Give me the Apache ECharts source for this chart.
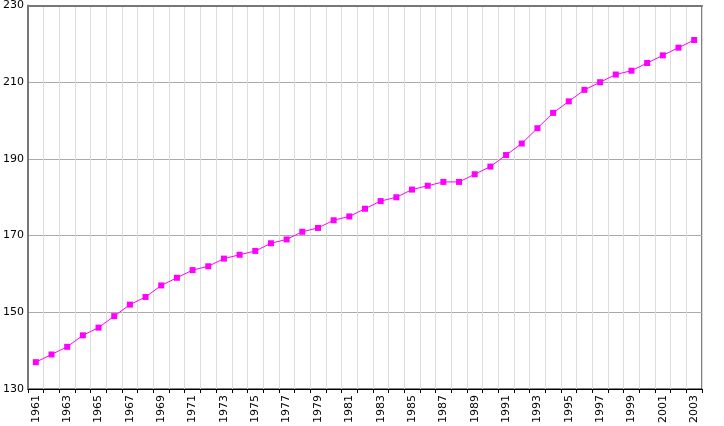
<!DOCTYPE html>
<html>
<head>
<meta charset="utf-8">
<script src="https://cdn.jsdelivr.net/npm/echarts@6/dist/echarts.min.js"></script>
<style>html,body{margin:0;padding:0;background:#fff}#c{width:724px;height:426px}</style>
</head>
<body>
<div id="c"></div>
<script>
const years = [];
for (let y = 1961; y <= 2003; y++) years.push(String(y));
const values = [137,139,141,144,146,149,152,154,157,159,161,162,164,165,166,168,169,171,172,174,175,177,179,180,182,183,184,184,186,188,191,194,198,202,205,208,210,212,213,215,217,219,221];
const yTicks = [130,150,170,190,210,230];

const chart = echarts.init(document.getElementById('c'), null, {renderer:'canvas'});
chart.setOption({
  animation: false,
  grid: {left: 28, right: 22, top: 5, bottom: 37, show: true, borderColor: '#000', borderWidth: 1, backgroundColor: '#fff'},
  xAxis: [{
    type: 'category', data: years, boundaryGap: true,
    axisLine: {lineStyle: {color: '#000', width: 1}},
    axisTick: {show: true, interval: 0, length: 4, lineStyle: {color: '#000'}},
    axisLabel: {interval: 1, rotate: 90, fontFamily: 'DejaVu Sans', fontSize: 11, color: '#000', margin: 6},
    splitLine: {show: true, interval: 0, lineStyle: {color: '#dcdcdc', width: 1}}
  },{
    type: 'category', data: years, position: 'top',
    axisLine: {lineStyle: {color: '#777', width: 2}},
    axisTick: {show: false}, axisLabel: {show: false}, splitLine: {show: false}
  }],
  yAxis: [{
    type: 'value', min: 130, max: 230, interval: 20,
    axisLine: {show: true, lineStyle: {color: '#777', width: 2}},
    axisTick: {show: false},
    axisLabel: {fontFamily: 'DejaVu Sans', fontSize: 11, color: '#000', margin: 4,
      formatter: v => yTicks.includes(v) ? String(v) : ''},
    splitLine: {show: true, lineStyle: {color: '#aaa', width: 1}}
  }],
  series: [{
    type: 'line', data: values, xAxisIndex: 0, yAxisIndex: 0,
    symbol: 'rect', symbolSize: 6,
    lineStyle: {color: '#ff00ff', width: 1},
    itemStyle: {color: '#ff00ff'}
  }]
});
</script>
</body>
</html>
